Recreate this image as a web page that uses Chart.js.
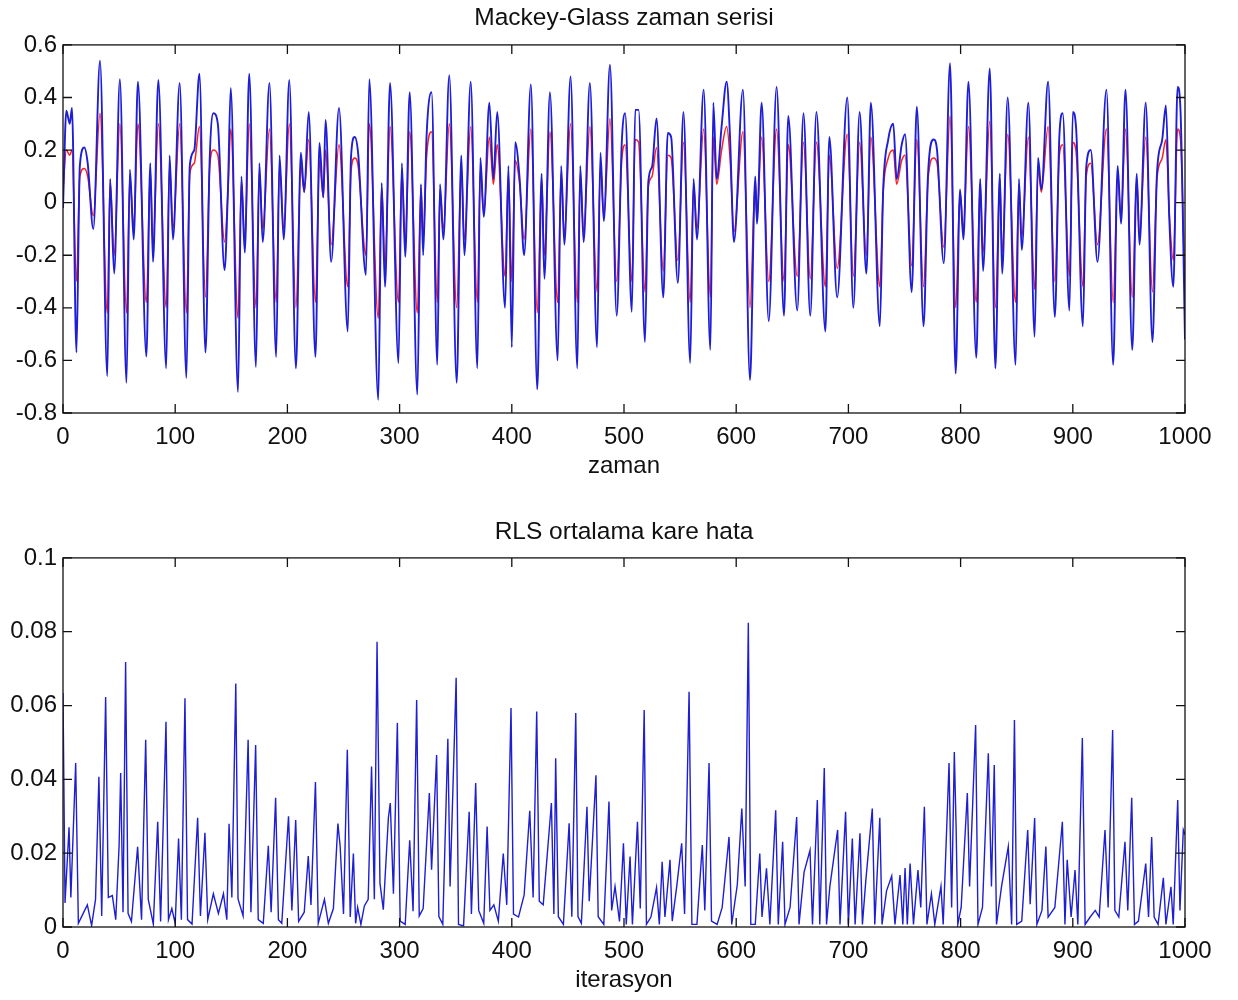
<!DOCTYPE html>
<html>
<head>
<meta charset="utf-8">
<script src="https://cdn.jsdelivr.net/npm/chart.js@4/dist/chart.umd.min.js"></script>
<style>
  body { margin: 0; background: #fff; }
  .wrap { position: absolute; left: 0; width: 1238px; height: 500px; }
</style>
</head>
<body>
<div class="wrap" style="top:0"><canvas id="mgChart" width="1238" height="500"></canvas></div>
<div class="wrap" style="top:500px"><canvas id="rlsChart" width="1238" height="500"></canvas></div>
<script>
// Mackey-Glass: time, real series (blue), RLS prediction (red)
const mgTime = [
  0, 3, 6, 8, 12, 15, 19, 22, 27, 33,
  39.5, 42, 45.6, 50.7, 56.6, 59.6, 63, 66.8, 74.3, 77.8,
  80.2, 85, 92, 95, 98, 104, 110, 113, 117, 121.6,
  127, 130.7, 134, 138, 144, 147, 149.5, 156, 159, 162,
  166, 172, 175, 178, 184, 190, 193, 196.7, 201.7, 207.6,
  212, 215, 219, 225, 228.6, 232, 234, 239, 246, 253.8,
  256.7, 260, 263, 270, 273, 281, 284, 287, 291.5, 299,
  302, 305, 309, 315.8, 319, 321, 324, 328.5, 333.6, 336,
  339, 344.3, 350.9, 355, 357.7, 363.4, 369.3, 372, 375, 380,
  383.6, 387, 394, 397, 400, 403, 407, 411, 417, 422.7,
  426.6, 429, 434, 440.9, 444, 446.8, 452.4, 458.4, 461, 464,
  469.6, 476, 479, 482, 487.5, 493.5, 498, 501, 507, 510,
  513, 518.7, 521.7, 525, 529, 535, 539, 542, 548, 553,
  559, 562, 565, 571, 577, 579.6, 582.6, 587, 591.5, 594.5,
  598, 606, 612.3, 617, 618.5, 622.7, 629, 636, 642.6, 646.4,
  654.4, 660, 666, 671.5, 679.5, 683, 690, 699, 704.4, 710,
  716, 720, 728, 731, 735.5, 740, 743, 747.5, 750.5, 756.4,
  761, 767, 771, 776, 779, 785, 790.6, 795.6, 799.5, 802.5,
  807, 814, 817.5, 820, 826, 831, 835, 837, 842, 849,
  852, 854.5, 860.4, 866, 869, 872, 878, 884, 888, 891,
  897, 900, 903, 909, 912, 916, 922, 930, 936, 940,
  943, 947, 953, 957, 959.4, 965, 971, 975, 979.7, 983,
  986, 989.6, 993.4, 996, 1000
];
const mgSeries = [
  -0.02, 0.35, 0.3, 0.36, -0.57, 0.14, 0.21, 0.15, -0.1, 0.54,
  -0.66, 0.09, -0.27, 0.47, -0.685, 0.125, -0.14, 0.46, -0.585, 0.15,
  -0.225, 0.467, -0.63, 0.18, -0.14, 0.455, -0.667, 0.14, 0.2, 0.49,
  -0.57, 0.16, 0.34, 0.3, -0.256, 0.05, 0.436, -0.72, 0.1, -0.19,
  0.49, -0.625, 0.15, -0.15, 0.455, -0.587, 0.18, -0.14, 0.467, -0.63,
  0.19, 0.04, 0.345, -0.587, 0.227, 0.02, 0.315, -0.225, 0.36, -0.49,
  0.174, 0.25, 0.19, -0.275, 0.47, -0.75, 0.075, -0.32, 0.455, -0.61,
  0.15, -0.206, 0.42, -0.73, 0.07, -0.2, 0.25, 0.42, -0.617, 0.07,
  -0.14, 0.485, -0.685, 0.18, -0.2, 0.46, -0.63, 0.17, -0.054, 0.38,
  0.09, 0.345, -0.4, 0.14, -0.55, 0.23, 0.09, -0.2, 0.45, -0.71,
  0.11, -0.29, 0.42, -0.6, 0.14, -0.16, 0.48, -0.63, 0.14, -0.15,
  0.455, -0.55, 0.19, -0.07, 0.525, -0.43, 0.227, 0.34, -0.415, 0.353,
  0.353, -0.53, 0.08, 0.136, 0.32, -0.36, 0.265, 0.25, -0.305, 0.345,
  -0.61, 0.09, -0.14, 0.43, -0.56, 0.38, 0.09, 0.29, 0.46, 0.25,
  -0.15, 0.43, -0.675, 0.1, -0.08, 0.38, -0.45, 0.44, -0.43, 0.33,
  -0.41, 0.34, -0.43, 0.345, -0.49, 0.25, -0.36, 0.4, -0.4, 0.345,
  -0.27, 0.38, -0.47, 0.05, 0.24, 0.3, 0.09, 0.22, 0.26, -0.34,
  0.365, -0.47, 0.11, 0.24, 0.2, -0.23, 0.53, -0.65, 0.05, -0.14,
  0.46, -0.59, 0.09, -0.26, 0.51, -0.63, 0.11, -0.27, 0.4, -0.617,
  0.09, -0.18, 0.38, -0.51, 0.17, 0.05, 0.46, -0.435, 0.25, 0.34,
  -0.41, 0.345, 0.28, -0.47, 0.136, 0.2, -0.225, 0.43, -0.617, 0.14,
  -0.08, 0.43, -0.56, 0.11, -0.16, 0.38, -0.53, 0.11, 0.24, 0.37,
  -0.06, -0.32, 0.44, 0.35, -0.52
];
const mgPredicted = [
  0.05, 0.2, 0.18, 0.2, -0.3, 0.1, 0.13, 0.1, -0.05, 0.34,
  -0.42, 0.08, -0.2, 0.3, -0.42, 0.1, -0.1, 0.3, -0.38, 0.12,
  -0.17, 0.3, -0.4, 0.14, -0.1, 0.3, -0.42, 0.11, 0.15, 0.29,
  -0.36, 0.13, 0.2, 0.18, -0.15, 0.04, 0.28, -0.44, 0.08, -0.15,
  0.3, -0.4, 0.12, -0.1, 0.28, -0.38, 0.14, -0.1, 0.3, -0.4,
  0.14, 0.04, 0.24, -0.38, 0.16, 0.02, 0.2, -0.16, 0.22, -0.32,
  0.12, 0.17, 0.14, -0.2, 0.3, -0.44, 0.06, -0.24, 0.29, -0.38,
  0.12, -0.15, 0.27, -0.42, 0.06, -0.14, 0.17, 0.27, -0.38, 0.05,
  -0.1, 0.3, -0.4, 0.14, -0.14, 0.29, -0.38, 0.13, -0.04, 0.25,
  0.07, 0.22, -0.28, 0.11, -0.3, 0.16, 0.07, -0.14, 0.28, -0.42,
  0.09, -0.2, 0.27, -0.38, 0.11, -0.12, 0.3, -0.38, 0.11, -0.11,
  0.29, -0.34, 0.14, -0.05, 0.32, -0.3, 0.16, 0.22, -0.3, 0.24,
  0.23, -0.34, 0.06, 0.1, 0.21, -0.26, 0.18, 0.17, -0.22, 0.23,
  -0.38, 0.07, -0.1, 0.28, -0.36, 0.25, 0.07, 0.2, 0.29, 0.17,
  -0.11, 0.27, -0.4, 0.08, -0.06, 0.25, -0.3, 0.28, -0.3, 0.22,
  -0.28, 0.23, -0.29, 0.23, -0.32, 0.18, -0.25, 0.26, -0.28, 0.23,
  -0.2, 0.25, -0.32, 0.04, 0.17, 0.2, 0.07, 0.16, 0.18, -0.24,
  0.24, -0.32, 0.09, 0.17, 0.15, -0.17, 0.33, -0.4, 0.04, -0.1,
  0.29, -0.38, 0.07, -0.19, 0.31, -0.4, 0.09, -0.19, 0.26, -0.38,
  0.07, -0.13, 0.25, -0.33, 0.13, 0.04, 0.29, -0.3, 0.18, 0.22,
  -0.28, 0.23, 0.19, -0.32, 0.1, 0.15, -0.16, 0.28, -0.38, 0.11,
  -0.06, 0.28, -0.36, 0.09, -0.12, 0.25, -0.34, 0.09, 0.17, 0.24,
  -0.04, -0.22, 0.28, 0.24, -0.35
];

// RLS mean square error: iteration, error
const rlsIter = [
  0, 1.8, 5.4, 7, 11.3, 13.7, 18, 21.7, 25.5, 29,
  32, 34.5, 38, 40.4, 44, 47, 50, 51.4, 53.5, 55.8,
  58, 61, 66.5, 70, 73.7, 76, 80.5, 84.4, 87, 91.8,
  94, 97, 100, 103, 105.5, 108.7, 111, 115, 120, 122.5,
  126.5, 129, 134, 138.5, 143, 146, 148, 150.5, 154, 156,
  160.5, 165, 167.5, 171.7, 174, 178.5, 183, 185.5, 189.5, 192,
  195, 201, 204, 207.4, 210, 215, 218.6, 221, 225, 227.5,
  233, 236.5, 241, 245, 247, 250, 253.4, 256, 258.8, 260.8,
  262.6, 265.5, 268.6, 272, 275, 277.5, 279.9, 282.5, 285.5, 290,
  291.7, 294.5, 298, 300.5, 305, 309, 312, 315.2, 317.5, 321,
  326.5, 328.5, 333, 335, 338.5, 343, 345, 350.4, 352.5, 357,
  362, 364, 367.8, 370.5, 375, 378, 380.5, 384, 388, 392.4,
  395.5, 399.3, 401.5, 406, 411, 416, 419, 422.2, 424.5, 428,
  435.3, 437.5, 439.1, 441.5, 446, 451.1, 453.5, 457, 459, 462,
  467, 469, 475, 477, 482, 486.6, 489, 492, 496, 499.5,
  502, 505.4, 507.5, 512, 514.5, 518, 520, 524, 529, 531.5,
  534, 536.5, 541, 543, 547, 551.4, 554, 558, 560.5, 565,
  569.8, 572, 575.8, 578, 583, 587.5, 593.6, 596, 601, 605,
  608, 610.8, 613, 617, 621, 623, 627, 630, 635.2, 637.5,
  641.4, 643.5, 648, 653.9, 656, 660.5, 665.8, 668, 672.3, 674.5,
  678.5, 680.5, 683.5, 690.4, 692.5, 697.5, 700, 703.5, 706, 710.3,
  712.5, 715.5, 721.3, 723.5, 728, 730, 734, 738.6, 741.5, 746,
  748.5, 750.5, 752.5, 755, 758, 762, 764.5, 767.7, 770, 774,
  777, 782.5, 784.5, 789.7, 792, 794.4, 796, 797.5, 800.5, 806,
  808, 813.4, 815.5, 819.5, 824.7, 827.5, 830, 832, 836.5, 842.5,
  845.5, 848, 850, 854.5, 859.8, 862, 866, 868, 872.5, 876,
  878, 884, 890.7, 893, 895, 898.5, 902, 904.5, 908.5, 911,
  915.5, 920, 923.5, 928.7, 931.5, 935.5, 937.5, 941, 946.5, 949,
  952.5, 955, 958.5, 965, 967.5, 970.3, 972.5, 976, 980.7, 983,
  987.5, 989.5, 993.5, 995.5, 998.5, 1000
];
const rlsError = [
  0.0634, 0.0065, 0.027, 0.008, 0.0444, 0.001, 0.0037, 0.006, 0.0004, 0.0075,
  0.0407, 0.003, 0.0623, 0.008, 0.0085, 0.002, 0.022, 0.0417, 0.004, 0.0718,
  0.0037, 0.0015, 0.0217, 0.002, 0.0507, 0.0075, 0.0008, 0.0285, 0.0015, 0.0556,
  0.002, 0.005, 0.001, 0.024, 0.002, 0.062, 0.002, 0.0008, 0.0296, 0.003,
  0.0255, 0.002, 0.009, 0.0037, 0.009, 0.002, 0.028, 0.008, 0.066, 0.0076,
  0.003, 0.0507, 0.004, 0.0493, 0.002, 0.001, 0.022, 0.004, 0.035, 0.002,
  0.001, 0.03, 0.0045, 0.029, 0.0015, 0.004, 0.0192, 0.006, 0.0393, 0.001,
  0.0075, 0.001, 0.005, 0.028, 0.022, 0.0035, 0.048, 0.0027, 0.0199, 0.001,
  0.0053, 0.0007, 0.0057, 0.0075, 0.0435, 0.0075, 0.0773, 0.0119, 0.0047, 0.0296,
  0.0336, 0.009, 0.0553, 0.0016, 0.0007, 0.0235, 0.0043, 0.0615, 0.003, 0.005,
  0.0363, 0.0155, 0.0466, 0.0028, 0.0007, 0.051, 0.011, 0.0675, 0.0007, 0.0003,
  0.0312, 0.0035, 0.039, 0.0045, 0.001, 0.0272, 0.0045, 0.006, 0.0016, 0.0199,
  0.006, 0.0593, 0.0035, 0.0027, 0.0087, 0.0315, 0.008, 0.0584, 0.007, 0.006,
  0.0336, 0.0035, 0.0457, 0.0028, 0.0007, 0.0281, 0.0028, 0.058, 0.0028, 0.001,
  0.0326, 0.007, 0.0411, 0.0028, 0.0007, 0.034, 0.0045, 0.011, 0.0015, 0.0227,
  0.0007, 0.0191, 0.0007, 0.0285, 0.005, 0.0588, 0.0007, 0.0027, 0.0107, 0.0007,
  0.0177, 0.0027, 0.0182, 0.0016, 0.011, 0.0227, 0.0035, 0.0637, 0.0007, 0.0007,
  0.0222, 0.0045, 0.0444, 0.0016, 0.0007, 0.0053, 0.0244, 0.0007, 0.0115, 0.0321,
  0.011, 0.0824, 0.0007, 0.0007, 0.0199, 0.0027, 0.0159, 0.0007, 0.0316, 0.0007,
  0.0231, 0.0007, 0.0053, 0.0298, 0.0007, 0.0149, 0.0208, 0.0007, 0.0344, 0.0007,
  0.0431, 0.0007, 0.011, 0.0263, 0.0007, 0.0312, 0.0007, 0.024, 0.0007, 0.0254,
  0.0007, 0.0125, 0.0321, 0.0007, 0.0296, 0.0007, 0.0098, 0.0138, 0.0007, 0.0141,
  0.0007, 0.016, 0.0007, 0.0172, 0.0007, 0.0154, 0.0053, 0.0326, 0.0007, 0.009,
  0.0007, 0.011, 0.0007, 0.0444, 0.0053, 0.0474, 0.027, 0.0007, 0.0053, 0.0363,
  0.011, 0.0547, 0.0007, 0.0053, 0.0471, 0.011, 0.0439, 0.0007, 0.011, 0.0218,
  0.0007, 0.0561, 0.0007, 0.0016, 0.0263, 0.0062, 0.0295, 0.0007, 0.0045, 0.0218,
  0.0027, 0.0053, 0.0285, 0.0007, 0.0182, 0.0027, 0.0154, 0.0007, 0.0512, 0.0007,
  0.0027, 0.0045, 0.0027, 0.0263, 0.0053, 0.0534, 0.0045, 0.0027, 0.0231, 0.0045,
  0.035, 0.0007, 0.0016, 0.0172, 0.0027, 0.0244, 0.0027, 0.0007, 0.0133, 0.0007,
  0.0109, 0.0007, 0.0344, 0.0045, 0.0263, 0.025
];

const FONT = "'Liberation Sans', Arial, sans-serif";

const toPoints = (xs, ys) => xs.map((x, i) => ({ x, y: ys[i] }));

// box around the plot area + matlab style inward ticks on all sides
const matlabFrame = {
  id: "matlabFrame",
  afterDatasetsDraw(chart) {
    const { ctx, chartArea: a, scales } = chart;
    const len = 9;
    ctx.save();
    ctx.strokeStyle = "#111";
    ctx.lineWidth = 1.3;
    ctx.strokeRect(a.left, a.top, a.right - a.left, a.bottom - a.top);
    ctx.beginPath();
    scales.x.ticks.forEach((t) => {
      const px = scales.x.getPixelForValue(t.value);
      ctx.moveTo(px, a.bottom); ctx.lineTo(px, a.bottom - len);
      ctx.moveTo(px, a.top); ctx.lineTo(px, a.top + len);
    });
    scales.y.ticks.forEach((t) => {
      const py = scales.y.getPixelForValue(t.value);
      ctx.moveTo(a.left, py); ctx.lineTo(a.left + len, py);
      ctx.moveTo(a.right, py); ctx.lineTo(a.right - len, py);
    });
    ctx.stroke();
    ctx.restore();
  },
};

const makeOptions = (cfg) => ({
  responsive: false,
  animation: false,
  layout: { padding: { left: 0, right: 53, top: 0, bottom: 0 } },
  plugins: {
    legend: { display: false },
    tooltip: { enabled: false },
    title: {
      display: true,
      fullSize: false,
      text: cfg.title,
      color: "#111",
      font: { family: FONT, size: 24.5, weight: "normal" },
      padding: cfg.titlePadding,
    },
  },
  scales: {
    x: {
      type: "linear",
      min: 0,
      max: 1000,
      grid: { display: false, drawTicks: false },
      border: { display: false },
      ticks: {
        stepSize: 100, padding: 10, color: "#111", maxRotation: 0,
        font: { family: FONT, size: 24 },
        callback: (v) => String(v),
      },
      title: {
        display: true,
        text: cfg.xLabel,
        color: "#111",
        font: { family: FONT, size: 24 },
        padding: { top: 0, bottom: cfg.xTitleBottom },
      },
      afterFit: (scale) => { scale.height = cfg.xHeight; },
    },
    y: {
      min: cfg.yMin,
      max: cfg.yMax,
      grid: { display: false, drawTicks: false },
      border: { display: false },
      ticks: {
        stepSize: cfg.yStep, padding: 6, color: "#111",
        font: { family: FONT, size: 24 },
        callback: (v) => String(+v.toFixed(2)),
      },
      afterFit: (scale) => { scale.width = 63; },
    },
  },
});

new Chart(document.getElementById("mgChart"), {
  type: "line",
  data: {
    datasets: [
      {
        label: "Mackey-Glass",
        data: toPoints(mgTime, mgSeries),
        borderColor: "rgb(30,30,215)",
        borderWidth: 1.9,
        pointRadius: 0,
        cubicInterpolationMode: "monotone",
      },
      {
        label: "RLS",
        data: toPoints(mgTime, mgPredicted),
        borderColor: "rgb(255,30,30)",
        borderWidth: 1.5,
        pointRadius: 0,
        cubicInterpolationMode: "monotone",
      },
    ],
  },
  options: makeOptions({
    title: "Mackey-Glass zaman serisi",
    titlePadding: { top: 4, bottom: 11.5 },
    xLabel: "zaman",
    xTitleBottom: 19.5,
    xHeight: 87,
    yMin: -0.8,
    yMax: 0.6,
    yStep: 0.2,
  }),
  plugins: [matlabFrame],
});

new Chart(document.getElementById("rlsChart"), {
  type: "line",
  data: {
    datasets: [
      {
        label: "MSE",
        data: toPoints(rlsIter, rlsError),
        borderColor: "rgb(30,30,210)",
        borderWidth: 1.4,
        pointRadius: 0,
        tension: 0,
      },
    ],
  },
  options: makeOptions({
    title: "RLS ortalama kare hata",
    titlePadding: { top: 18, bottom: 10.5 },
    xLabel: "iterasyon",
    xTitleBottom: 5.5,
    xHeight: 73,
    yMin: 0,
    yMax: 0.1,
    yStep: 0.02,
  }),
  plugins: [matlabFrame],
});
</script>
</body>
</html>
